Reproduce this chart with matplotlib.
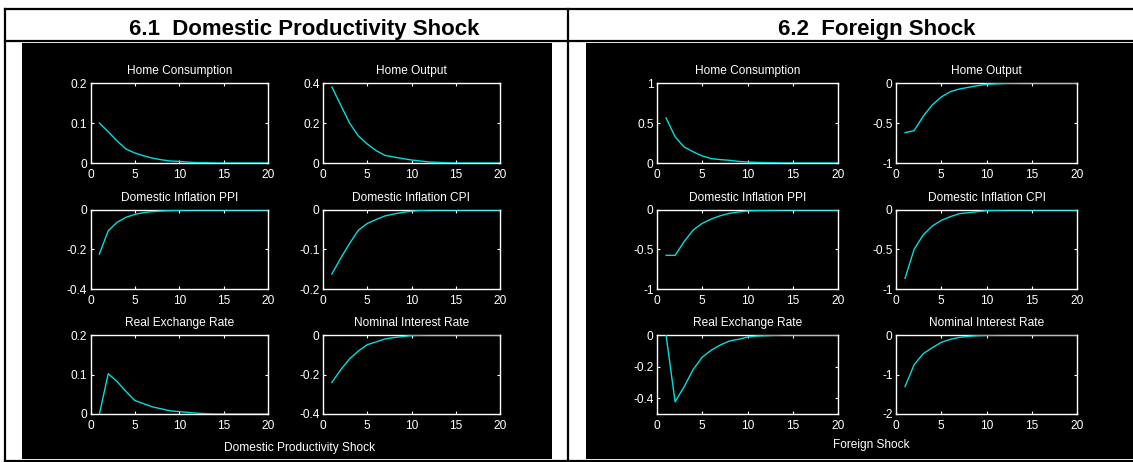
import matplotlib
matplotlib.use("Agg")
import matplotlib.pyplot as plt
from matplotlib.patches import Rectangle
from matplotlib.ticker import FuncFormatter
from matplotlib import font_manager

plt.rcParams['font.family'] = ['Liberation Sans', 'DejaVu Sans']
plt.rcParams['axes.unicode_minus'] = False

# ---------------- data ----------------
periods = list(range(1, 21))
panel_titles = ["Home Consumption", "Home Output", "Domestic Inflation PPI",
                "Domestic Inflation CPI", "Real Exchange Rate", "Nominal Interest Rate"]
header_left = "6.1  Domestic Productivity Shock"
header_right = "6.2  Foreign Shock"
footer_left = "Domestic Productivity Shock"
footer_right = "Foreign Shock"

# Domestic productivity shock
dom_consumption = [0.100, 0.078, 0.055, 0.035, 0.025, 0.018, 0.012, 0.008, 0.005, 0.004,
                   0.002, 0.001, 0.001, 0, 0, 0, 0, 0, 0, 0]
dom_output = [0.380, 0.290, 0.200, 0.135, 0.095, 0.062, 0.038, 0.030, 0.022, 0.015,
              0.010, 0.005, 0.003, 0.001, 0, 0, 0, 0, 0, 0]
dom_ppi = [-0.223, -0.105, -0.062, -0.037, -0.022, -0.013, -0.008, -0.005, -0.003, -0.001,
           0, 0, 0, 0, 0, 0, 0, 0, 0, 0]
dom_cpi = [-0.162, -0.122, -0.085, -0.051, -0.034, -0.024, -0.015, -0.010, -0.006, -0.003,
           -0.001, 0, 0, 0, 0, 0, 0, 0, 0, 0]
dom_rer = [0, 0.102, 0.082, 0.057, 0.034, 0.026, 0.018, 0.013, 0.008, 0.006,
           0.004, 0.002, 0.001, 0, 0, 0, 0, 0, 0, 0]
dom_rate = [-0.240, -0.176, -0.121, -0.081, -0.049, -0.035, -0.020, -0.013, -0.008, -0.003,
            -0.001, 0, 0, 0, 0, 0, 0, 0, 0, 0]

# Foreign shock
for_consumption = [0.563, 0.328, 0.200, 0.140, 0.088, 0.055, 0.042, 0.034, 0.020, 0.012,
                   0.008, 0.005, 0.003, 0.001, 0, 0, 0, 0, 0, 0]
for_output = [-0.620, -0.596, -0.417, -0.275, -0.175, -0.108, -0.075, -0.054, -0.033, -0.017,
              -0.010, -0.005, -0.002, 0, 0, 0, 0, 0, 0, 0]
for_ppi = [-0.574, -0.574, -0.400, -0.253, -0.169, -0.114, -0.072, -0.042, -0.025, -0.013,
           -0.006, -0.003, -0.001, 0, 0, 0, 0, 0, 0, 0]
for_cpi = [-0.865, -0.498, -0.316, -0.203, -0.131, -0.084, -0.046, -0.034, -0.021, -0.008,
           -0.004, 0, 0, 0, 0, 0, 0, 0, 0, 0]
for_rer = [0, -0.423, -0.327, -0.218, -0.140, -0.096, -0.063, -0.038, -0.027, -0.013,
           -0.007, -0.004, -0.002, 0, 0, 0, 0, 0, 0, 0]
for_rate = [-1.305, -0.754, -0.475, -0.322, -0.186, -0.110, -0.060, -0.034, -0.017, -0.008,
            -0.004, 0, 0, 0, 0, 0, 0, 0, 0, 0]

x_ticks = [0, 5, 10, 15, 20]
dom_yticks = [[0, 0.1, 0.2], [0, 0.2, 0.4], [-0.4, -0.2, 0],
              [-0.2, -0.1, 0], [0, 0.1, 0.2], [-0.4, -0.2, 0]]
dom_ylims = [(0, 0.2), (0, 0.4), (-0.4, 0), (-0.2, 0), (0, 0.2), (-0.4, 0)]
for_yticks = [[0, 0.5, 1], [-1, -0.5, 0], [-1, -0.5, 0],
              [-1, -0.5, 0], [-0.4, -0.2, 0], [-2, -1, 0]]
for_ylims = [(0, 1), (-1, 0), (-1, 0), (-1, 0), (-0.5, 0), (-2, 0)]

dom_series = [dom_consumption, dom_output, dom_ppi, dom_cpi, dom_rer, dom_rate]
for_series = [for_consumption, for_output, for_ppi, for_cpi, for_rer, for_rate]

# header font: narrow bold if available
installed = {f.name for f in font_manager.fontManager.ttflist}
if "Liberation Sans Narrow" in installed:
    head_family, head_size = ["Liberation Sans Narrow", "Liberation Sans"], 19.5
else:
    head_family, head_size = ["Liberation Sans", "DejaVu Sans"], 16

# ---------------- layout ----------------
W, H = 1133, 462
fig = plt.figure(figsize=(W / 100, H / 100), dpi=100)
fig.patch.set_facecolor("white")

bg = fig.add_axes([0, 0, 1, 1])
bg.set_xlim(0, W)
bg.set_ylim(H, 0)
bg.axis("off")

# black panels
bg.add_patch(Rectangle((22, 43), 530, 416, facecolor="black", edgecolor="none"))
bg.add_patch(Rectangle((586, 43), 547, 416, facecolor="black", edgecolor="none"))

# table borders
lc = "black"
lw = 1.6
bg.plot([5, W], [8.5, 8.5], color=lc, lw=lw)
bg.plot([5, W], [41, 41], color=lc, lw=lw)
bg.plot([5, W], [461, 461], color=lc, lw=lw)
bg.plot([5, 5], [8.5, 461], color=lc, lw=lw)
bg.plot([568, 568], [8.5, 461], color=lc, lw=lw)

bg.text(304, 35.5, header_left, ha="center", va="baseline", fontsize=head_size,
        fontweight="bold", color="black", family=head_family)
bg.text(877, 35.5, header_right, ha="center", va="baseline", fontsize=head_size,
        fontweight="bold", color="black", family=head_family)

col_px = {"L": [(90.5, 268), (323, 500)], "R": [(657, 838), (896, 1077)]}
row_px = [(83, 163), (210, 289), (335, 414)]

fs = 8.6
line_color = "#00dede"


def fmt(v, pos):
    return "%g" % v


def make_axes(x0, x1, y0, y1):
    return fig.add_axes([x0 / W, 1 - y1 / H, (x1 - x0) / W, (y1 - y0) / H])


for side, series, yticks, ylims in (("L", dom_series, dom_yticks, dom_ylims),
                                     ("R", for_series, for_yticks, for_ylims)):
    for i, vals in enumerate(series):
        r, c = divmod(i, 2)
        (x0, x1), (y0, y1) = col_px[side][c], row_px[r]
        ax = make_axes(x0, x1, y0, y1)
        ax.set_facecolor("black")
        ax.plot(periods, vals, color=line_color, lw=1.0, zorder=3)
        ax.set_xlim(0, 20)
        ax.set_ylim(*ylims[i])
        ax.set_xticks(x_ticks)
        ax.set_yticks(yticks[i])
        ax.xaxis.set_major_formatter(FuncFormatter(fmt))
        ax.yaxis.set_major_formatter(FuncFormatter(fmt))
        for sp in ax.spines.values():
            sp.set_color("white")
            sp.set_linewidth(1.0)
        ax.tick_params(axis="both", direction="in", length=2.5, width=0.8,
                       colors="white", labelsize=fs, top=True, right=True)
        ax.tick_params(axis="x", pad=4)
        ax.tick_params(axis="y", pad=2.5)
        ax.set_title(panel_titles[i], color="white", fontsize=fs, pad=6.5)

bg.text(300, 448, footer_left, ha="center", va="center", fontsize=fs, color="white")
bg.text(871, 445, footer_right, ha="center", va="center", fontsize=fs, color="white")

fig.savefig("out.png", dpi=100, facecolor=fig.get_facecolor())
